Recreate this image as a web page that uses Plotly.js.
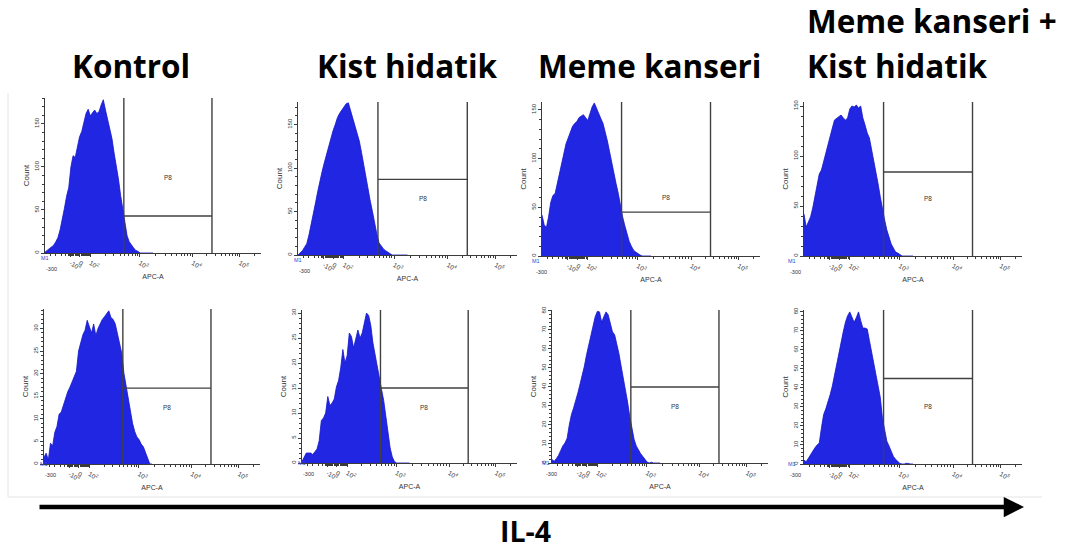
<!DOCTYPE html>
<html>
<head>
<meta charset="utf-8">
<script src="https://cdn.plot.ly/plotly-3.0.1.min.js"></script>
<style>html,body{margin:0;padding:0;background:#fff;}#chart{width:1078px;height:551px;}</style>
</head>
<body>
<div id="chart"></div>
<script>
// ---- data ----
const groupTitles = ['Kontrol', 'Kist hidatik', 'Meme kanseri', 'Meme kanseri +', 'Kist hidatik'];
const markerLabel = 'IL-4';
// APC-A display channel (bin centres on the biexponential display scale)
const apcChannel = [0,1,2,3,4,5,6,7,8,9,10,11,12,13,14,15,16,17,18,19,20,21,22,23,24,25,26,27,28,29,30,31,32,33,34,35,36,37,38,39,40,41,42,43,44,45,46,47,48,49,50];
const apcTickVals = [11.8, 16.2, 21, 43.9, 68.4, 90.2];
const apcTickText = ['-10<sup>2</sup>', '0', '10<sup>2</sup>', '10<sup>3</sup>', '10<sup>4</sup>', '10<sup>5</sup>'];
const decadeVals = [21, 43.9, 68.4, 90.2];
// counts per channel
const kontrolTop = [1,3,5,7,9,13,18,27,38,52,66,76,100,113,111,124,135,141,152,162,167,159,163,166,162,164,172,178,166,156,146,133,116,103,86,67,52,32,20,13,9,6,3,2,0,0,0,0,0,0,0];
const kistTop = [0,2,5,9,13,23,35,44,60,73,86,96,106,116,123,133,143,150,158,163,167,171,174,175,166,157,150,138,131,118,103,91,77,62,50,36,24,14,10,7,5,3,2,0,0,0,0,0,0,0,0];
const memeTop = [42,32,29,40,55,62,64,74,84,95,106,115,121,127,133,136,138,142,144,145,142,139,146,153,157,151,147,141,136,128,118,107,95,83,74,64,51,40,31,22,15,10,6,4,2,1,0,0,0,0,0];
const bothTop = [42,29,34,39,48,59,70,82,86,95,103,111,120,128,136,138,140,141,138,136,138,147,150,149,151,148,150,138,131,123,118,107,97,85,72,59,46,36,26,18,12,8,4,3,1,0,0,0,0,0,0];
const kontrolBottom = [1.5,2.4,0.9,4.6,4,7,8.3,11,11.5,13,14.8,16,17,18.2,19,20.5,25,27,28.6,29.6,31.8,30.4,29,31,28.4,30,31.2,32,32.6,33.3,33.9,32.4,32,31,28.8,26.5,24.5,20.1,17.3,14,11.5,9,7.2,6,5.4,4.4,3.8,2.5,1.2,0,0];
const kistBottom = [0.3,1.3,2,2,2,1.7,2.2,2.8,4.5,8.5,9,10,13.3,11.5,12,12.8,15.2,16.5,19,22.7,20,21.5,26,25.3,23,25,26.6,25,26,28,30,29.5,27.5,24,21.5,19.5,17.3,14.7,12.5,9,5.5,3,1.2,0.3,0,0,0,0,0,0,0];
const memeBottom = [1.8,0.9,2.3,4,6.5,9,10.5,13,20,25.5,29,32.5,37,41.6,46,51,57,62.5,68,72,77,79.8,79.5,74,77,79.5,78,73.5,69,67.5,63,57.5,51,45,40,32,24.5,17.5,12.5,9,6.8,5,3.5,1.8,0.5,0,0.4,0,0,0,0];
const bothBottom = [2,1.2,3,5,7,8.5,10,11,19,26,29,32.5,36.5,41,47,53,58,63,69.5,74.5,78,80,77,74.5,77,80,75.5,71.5,71.5,71,65,59,53.5,46,40,35,24,17,12,9.5,6.5,4,2.5,1.5,0.3,0,0,0.4,0,0,0];
// P8 gate: channel limits and height of the marker bar per panel
const gateLimits = [36.5, 77.3];
const gateLevels = [43, 87, 45, 84, 16.8, 15, 40, 45];
const p8LabelY = [88, 65, 60, 58, 12.6, 11.2, 29.5, 30];
const yMaxes = [180, 176, 158, 154, 34.3, 30.6, 80.5, 81];
const yMajor = [50, 50, 50, 50, 5, 5, 10, 10];
const yMinor = [10, 10, 10, 10, 1, 1, 2, 2];

// ---- layout geometry (pixels) ----
const W = 1078, H = 551;
const boxes = [
  [45, 261, 98, 253], [298, 517, 102, 255], [542, 760, 102, 256], [804, 1022, 102, 256],
  [44, 260, 309, 464], [302, 517, 310, 463], [552, 768, 310, 463], [804, 1022, 310, 464]
];
const series = [kontrolTop, kistTop, memeTop, bothTop, kontrolBottom, kistBottom, memeBottom, bothBottom];

// minor x ticks (biexponential look: sparse, then a dense block around 0, then log decades)
const minorX = [2.5, 5, 7.5, 9.5, 10.7, 11.3, 12.4, 12.9, 13.4, 13.9, 14.4, 14.9, 15.3, 15.7, 16.7, 17.2, 17.7, 18.2, 18.7, 19.2, 19.7, 20.2, 20.6];
for (let d = 0; d < 3; d++) {
  for (let k = 2; k <= 9; k++) minorX.push(decadeVals[d] + Math.log10(k) * (decadeVals[d + 1] - decadeVals[d]));
}
minorX.push(decadeVals[3] + Math.log10(2) * 22);

const traces = [], shapes = [], annotations = [];
const layout = {
  width: W, height: H, margin: {l: 0, r: 0, t: 0, b: 0},
  paper_bgcolor: '#ffffff', plot_bgcolor: 'rgba(0,0,0,0)', showlegend: false,
  font: {family: 'Liberation Sans, Arial, sans-serif', color: '#333'}
};
const px = v => v / W, py = v => 1 - v / H;
const axisCol = '#3a3a3a';

series.forEach((counts, i) => {
  const n = i + 1, sfx = n === 1 ? '' : String(n);
  const xa = 'x' + sfx, ya = 'y' + sfx;
  const [x0, x1, yt, yb] = boxes[i];
  traces.push({
    type: 'scatter', mode: 'lines', x: apcChannel, y: counts, xaxis: xa, yaxis: ya,
    fill: 'tozeroy', fillcolor: '#2026e2', line: {color: '#1515c8', width: 0.8, shape: 'linear'},
    hoverinfo: 'skip'
  });
  layout['xaxis' + sfx] = {
    domain: [px(x0), px(x1)], anchor: ya, range: [0, 100], fixedrange: true,
    showgrid: false, zeroline: false, showline: true, linecolor: axisCol, linewidth: 1,
    ticks: 'outside', ticklen: 3, tickwidth: 1, tickcolor: axisCol,
    tickmode: 'array', tickvals: apcTickVals, ticktext: apcTickText,
    tickfont: {size: 6.5, color: '#333'},
    minor: {ticks: 'outside', ticklen: 2, tickwidth: 1, tickcolor: axisCol, tickmode: 'array', tickvals: minorX},
    title: {text: 'APC-A', font: {size: 7, color: '#333'}, standoff: 3}
  };
  layout['yaxis' + sfx] = {
    domain: [py(yb), py(yt)], anchor: xa, range: [0, yMaxes[i]], fixedrange: true,
    showgrid: false, zeroline: false, showline: true, linecolor: axisCol, linewidth: 1,
    ticks: 'outside', ticklen: 3, tickwidth: 1, tickcolor: axisCol,
    tickmode: 'linear', tick0: 0, dtick: yMajor[i], tickangle: -90,
    tickfont: {size: 6, color: '#333'},
    minor: {ticks: 'outside', ticklen: 2, tickwidth: 1, tickcolor: axisCol, tick0: 0, dtick: yMinor[i]},
    title: {text: 'Count', font: {size: 8, color: '#333'}, standoff: 2}
  };
  // gate P8
  gateLimits.forEach(g => shapes.push({type: 'line', xref: xa, yref: ya + ' domain', x0: g, x1: g, y0: 0, y1: 1, line: {color: '#404040', width: 1.4}}));
  shapes.push({type: 'line', xref: xa, yref: ya, x0: gateLimits[0], x1: gateLimits[1], y0: gateLevels[i], y1: gateLevels[i], line: {color: '#404040', width: 1.4}});
  annotations.push({xref: xa, yref: ya, x: (gateLimits[0] + gateLimits[1]) / 2, y: p8LabelY[i], text: 'P8', showarrow: false, font: {size: 6.5, color: '#333'}});
  annotations.push({xref: 'paper', yref: 'paper', x: px(x0 - 1), y: py(yb + 16), text: '-300', showarrow: false, font: {size: 5.5, color: '#333'}});
  annotations.push({xref: 'paper', yref: 'paper', x: px(x0 - 6), y: py(yb + 5), text: 'M1', showarrow: false, font: {size: 5.5, color: '#3348d0'}});
});

// light frame around the grid
shapes.push({type: 'line', xref: 'paper', yref: 'paper', x0: px(8), x1: px(8), y0: py(93), y1: py(497), line: {color: '#e4e4e4', width: 1}});
shapes.push({type: 'line', xref: 'paper', yref: 'paper', x0: px(8), x1: px(1042), y0: py(497), y1: py(497), line: {color: '#e4e4e4', width: 1}});

// group titles
const titleFont = {family: 'Open Sans, Noto Sans, sans-serif', size: 31.5, color: '#000', weight: 700};
annotations.push({xref: 'paper', yref: 'paper', x: px(131), y: py(66), text: '<b>' + groupTitles[0] + '</b>', showarrow: false, font: titleFont, xanchor: 'center', yanchor: 'middle'});
annotations.push({xref: 'paper', yref: 'paper', x: px(407), y: py(66), text: '<b>' + groupTitles[1] + '</b>', showarrow: false, font: titleFont, xanchor: 'center', yanchor: 'middle'});
annotations.push({xref: 'paper', yref: 'paper', x: px(649), y: py(66), text: '<b>' + groupTitles[2] + '</b>', showarrow: false, font: titleFont, xanchor: 'center', yanchor: 'middle'});
annotations.push({xref: 'paper', yref: 'paper', x: px(805), y: py(21), text: '<b>' + groupTitles[3] + '</b>', showarrow: false, font: titleFont, xanchor: 'left', yanchor: 'middle'});
annotations.push({xref: 'paper', yref: 'paper', x: px(805), y: py(66), text: '<b>' + groupTitles[4] + '</b>', showarrow: false, font: titleFont, xanchor: 'left', yanchor: 'middle'});

// IL-4 arrow and label
annotations.push({xref: 'paper', yref: 'paper', x: px(1024), y: py(507), ax: -(1024 - 38), ay: 0, text: '', showarrow: true,
  arrowhead: 2, arrowsize: 0.9, arrowwidth: 4.5, arrowcolor: '#000', standoff: 0, startstandoff: 0});
annotations.push({xref: 'paper', yref: 'paper', x: px(525), y: py(531), text: '<b>' + markerLabel + '</b>', showarrow: false, borderpad: 0,
  font: {family: 'Open Sans, Noto Sans, sans-serif', size: 28.5, color: '#000', weight: 700}, xanchor: 'center', yanchor: 'middle'});

layout.shapes = shapes;
layout.annotations = annotations;
Plotly.newPlot('chart', traces, layout, {staticPlot: true, displayModeBar: false});
</script>
</body>
</html>
